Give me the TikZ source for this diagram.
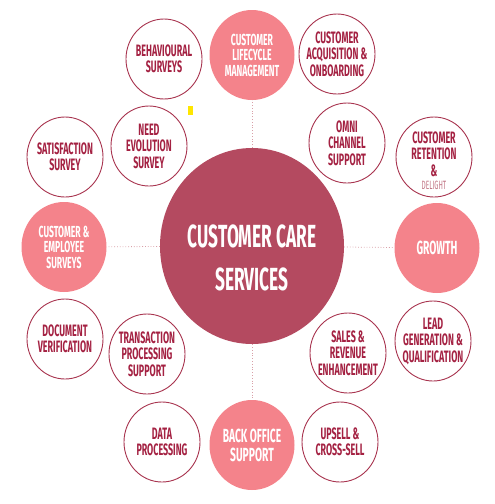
\documentclass[tikz,border=0pt]{standalone}
\usepackage{fontspec}
\setmainfont{Fira Sans}[FakeStretch=0.54]
\usetikzlibrary{shapes.geometric}
\definecolor{hub}{HTML}{B44A60}
\definecolor{pinkc}{HTML}{F4838B}
\definecolor{ring}{HTML}{A8344F}
\definecolor{txt}{HTML}{A42142}
\definecolor{dots}{HTML}{D9A0A8}
\definecolor{light}{HTML}{C27686}
\definecolor{yellowmark}{HTML}{FFE600}
\tikzset{
  ringc/.style={ellipse, draw=ring, line width=0.9pt, fill=white, minimum width=76pt, minimum height=80pt, inner sep=0pt},
  pinkcirc/.style={ellipse, fill=pinkc, minimum width=85pt, minimum height=90pt, inner sep=0pt},
  hubcirc/.style={ellipse, fill=hub, minimum width=184pt, minimum height=196pt, inner sep=0pt},
  ringtxt/.style={text=txt, align=center, inner sep=0pt, font=\bfseries\fontsize{16.5}{16.5}\selectfont},
  pinktxt/.style={text=white, align=center, inner sep=0pt, font=\bfseries\fontsize{16}{15.5}\selectfont},
  bigpinktxt/.style={text=white, align=center, inner sep=0pt, font=\bfseries\fontsize{19}{19}\selectfont},
  hubtxt/.style={text=white, align=center, inner sep=0pt, font=\bfseries\fontsize{32}{43}\selectfont},
  dotline/.style={draw=dots, line width=0.8pt, dotted}
}
\begin{document}
\begin{tikzpicture}[x=1pt,y=-1pt]
\useasboundingbox (0,0) rectangle (495,504);
% hub
\node[hubcirc] (hub) at (252,246) {};
\node[hubtxt] at (252,258) {CUSTOMER CARE\\SERVICES};
% pink circles
\node[pinkcirc] (clm) at (252,55) {};
\node[pinktxt] at (252,55) {CUSTOMER\\LIFECYCLE\\MANAGEMENT};
\node[pinkcirc] (ces) at (64,247) {};
\node[pinktxt] at (64,247) {CUSTOMER \&\\EMPLOYEE\\SURVEYS};
\node[pinkcirc] (gro) at (437,248) {};
\node[bigpinktxt] at (437,248) {GROWTH};
\node[pinkcirc] (bos) at (252,445) {};
\node[bigpinktxt] at (252,445) {BACK OFFICE\\SUPPORT};
% connectors
\draw[dotline] (hub) -- (clm);
\draw[dotline] (hub) -- (ces);
\draw[dotline] (hub) -- (gro);
\draw[dotline] (hub) -- (bos);
% ring circles
\node[ringc] (beh) at (164,59) {};
\node[ringtxt] at (164,59) {BEHAVIOURAL\\SURVEYS};
\node[ringc] (acq) at (337,54) {};
\node[ringtxt] at (337,54) {CUSTOMER\\ACQUISITION \&\\ONBOARDING};
\node[ringc] (nes) at (149,146) {};
\node[ringtxt] at (149,146) {NEED\\EVOLUTION\\SURVEY};
\node[ringc] (omn) at (347,143) {};
\node[ringtxt] at (347,143) {OMNI\\CHANNEL\\SUPPORT};
\node[ringc] (sat) at (65,157) {};
\node[ringtxt] at (65,157) {SATISFACTION\\SURVEY};
\node[ringc] (ret) at (434,157) {};
\node[ringtxt] at (434,154) {CUSTOMER\\RETENTION\\\&};
\node[text=light, inner sep=0pt, font=\fontsize{12}{11}\selectfont] at (434,185.5) {DELIGHT};
\node[ringc] (doc) at (65,339) {};
\node[ringtxt] at (65,339) {DOCUMENT\\VERIFICATION};
\node[ringc] (lea) at (433,341) {};
\node[ringtxt] at (433,341) {LEAD\\GENERATION \&\\QUALIFICATION};
\node[ringc] (tra) at (147,354) {};
\node[ringtxt] at (147,354) {TRANSACTION\\PROCESSING\\SUPPORT};
\node[ringc] (sal) at (348,353) {};
\node[ringtxt] at (348,353) {SALES \&\\REVENUE\\ENHANCEMENT};
\node[ringc] (dat) at (162,442) {};
\node[ringtxt] at (162,442) {DATA\\PROCESSING};
\node[ringc] (ups) at (340,442) {};
\node[ringtxt] at (340,442) {UPSELL \&\\CROSS-SELL};
% small yellow mark
\fill[yellowmark] (188,106) rectangle (193,115);
\end{tikzpicture}
\end{document}
